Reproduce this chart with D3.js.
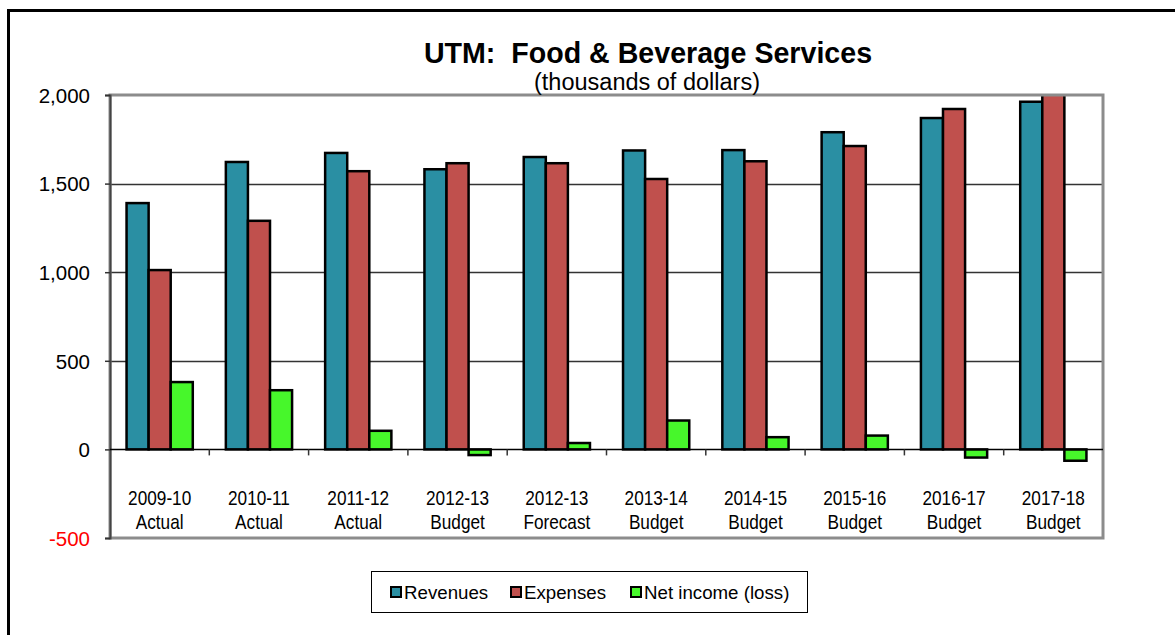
<!DOCTYPE html>
<meta charset="utf-8">
<head>
  <title>UTM: Food &amp; Beverage Services</title>
</head>

<style>
body {
  margin: 0;
  background: #fff;
  font-family: Arial, "Liberation Sans", Helvetica, sans-serif;
}

.frame {
  fill: none;
  stroke: #000;
  stroke-width: 3;
}

.grid line {
  stroke: #333;
  stroke-width: 1.3;
}

.plot-border {
  fill: none;
  stroke: #8c8c8c;
  stroke-width: 3;
}

.bars rect {
  stroke: #000;
  stroke-width: 2.5;
}

.ylab {
  font-family: Arial, "Liberation Sans", sans-serif;
  font-size: 20.5px;
}

.xlab {
  font-family: "Liberation Sans Narrow", "Arial Narrow", Arial, sans-serif;
  font-size: 21px;
  fill: #000;
}

.legend text {
  font-size: 18.7px;
}
</style>

<body>
  <svg width="1175" height="635"></svg>

  <script src="https://cdnjs.cloudflare.com/ajax/libs/d3/7.8.5/d3.min.js"></script>

  <script>
var categories = [
  ['2009-10', 'Actual'],
  ['2010-11', 'Actual'],
  ['2011-12', 'Actual'],
  ['2012-13', 'Budget'],
  ['2012-13', 'Forecast'],
  ['2013-14', 'Budget'],
  ['2014-15', 'Budget'],
  ['2015-16', 'Budget'],
  ['2016-17', 'Budget'],
  ['2017-18', 'Budget']
];
var seriesNames = ['Revenues', 'Expenses', 'Net income (loss)'];
var seriesColors = ['#2a8fa3', '#c0504d', '#47f72b'];

var revenues = [1390, 1622, 1673, 1581, 1650, 1687, 1689, 1790, 1870, 1962];
var expenses = [1012, 1290, 1570, 1615, 1615, 1526, 1626, 1712, 1921, 2030];
var netIncome = [380, 334, 105, -32, 36, 163, 69, 78, -46, -64];

var yTicks = [-500, 0, 500, 1000, 1500, 2000];

var svg = d3.select('svg');
var plot = {left: 110, right: 1103, top: 95, bottom: 538};

// outer chart frame (cropped on the right and bottom)
svg.append('path')
  .attr('class', 'frame')
  .attr('d', 'M8.5,636 V10.5 H1176');

var x = d3.scaleBand()
  .domain(d3.range(categories.length))
  .range([plot.left, plot.right])
  .paddingInner(0.333)
  .paddingOuter(0.1667);

var xs = d3.scaleBand()
  .domain(d3.range(seriesNames.length))
  .range([0, x.bandwidth()]);

var y = d3.scaleLinear()
  .domain([-500, 2000])
  .range([plot.bottom, plot.top]);

// gridlines
svg.append('g')
  .attr('class', 'grid')
  .selectAll('line')
  .data([500, 1000, 1500])
  .enter()
  .append('line')
  .attr('x1', plot.left)
  .attr('x2', plot.right)
  .attr('y1', function(d) { return Math.round(y(d)) + 0.5; })
  .attr('y2', function(d) { return Math.round(y(d)) + 0.5; });

// bars, clipped to the plot area
svg.append('clipPath')
  .attr('id', 'clip')
  .append('rect')
  .attr('x', plot.left)
  .attr('y', plot.top)
  .attr('width', plot.right - plot.left)
  .attr('height', plot.bottom - plot.top);

var series = [revenues, expenses, netIncome];
var groups = svg.append('g')
  .attr('class', 'bars')
  .attr('clip-path', 'url(#clip)')
  .selectAll('g')
  .data(series)
  .enter()
  .append('g')
  .attr('fill', function(d, i) { return seriesColors[i]; });

groups.each(function(vals, si) {
  d3.select(this).selectAll('rect')
    .data(vals)
    .enter()
    .append('rect')
    .attr('x', function(d, i) { return x(i) + xs(si); })
    .attr('width', xs.bandwidth())
    .attr('y', function(d) { return y(Math.max(0, d)); })
    .attr('height', function(d) { return Math.abs(y(d) - y(0)); });
});

// plot area border
svg.append('rect')
  .attr('class', 'plot-border')
  .attr('x', plot.left)
  .attr('y', plot.top)
  .attr('width', plot.right - plot.left)
  .attr('height', plot.bottom - plot.top);

// y axis (plain hyphen for negatives, as in the original)
var fmt = d3.format(',');
var yAxis = d3.axisLeft(y)
  .tickValues(yTicks)
  .tickSize(5)
  .tickPadding(15)
  .tickFormat(function(d) { return fmt(d).replace('\u2212', '-'); });

var ya = svg.append('g')
  .attr('transform', 'translate(' + plot.left + ',0)')
  .call(yAxis);
ya.attr('font-family', null).attr('font-size', null);
ya.select('.domain').attr('stroke', '#444').attr('stroke-width', 2);
ya.selectAll('.tick line').attr('stroke', '#333').attr('stroke-width', 1.5);
ya.selectAll('.tick text')
  .attr('class', 'ylab')
  .attr('dy', '0.36em')
  .style('fill', function(d) { return d < 0 ? '#ff0000' : '#000'; });

// zero line with category boundary ticks
var boundaries = d3.range(1, categories.length).map(function(i) {
  return plot.left + i * (plot.right - plot.left) / categories.length;
});
svg.append('line')
  .attr('x1', plot.left)
  .attr('x2', plot.right)
  .attr('y1', y(0))
  .attr('y2', y(0))
  .attr('stroke', '#000')
  .attr('stroke-width', 1.5);
svg.append('g')
  .selectAll('line')
  .data(boundaries)
  .enter()
  .append('line')
  .attr('x1', function(d) { return d; })
  .attr('x2', function(d) { return d; })
  .attr('y1', y(0))
  .attr('y2', y(0) + 6)
  .attr('stroke', '#333')
  .attr('stroke-width', 1.5);

// category labels (condensed like Arial Narrow)
var xl = svg.append('g')
  .selectAll('text')
  .data(categories)
  .enter()
  .append('text')
  .attr('class', 'xlab')
  .attr('text-anchor', 'middle')
  .attr('transform', function(d, i) {
    return 'translate(' + (x(i) + x.bandwidth() / 2) + ',505) scale(0.82,1)';
  });
xl.append('tspan').attr('x', 0).text(function(d) { return d[0]; });
xl.append('tspan')
  .attr('x', 0)
  .attr('dy', 24)
  .text(function(d) { return d[1]; });

// title
svg.append('text')
  .attr('x', 648)
  .attr('y', 63)
  .attr('text-anchor', 'middle')
  .attr('font-size', 28.6)
  .attr('font-weight', 'bold')
  .style('white-space', 'pre')
  .text('UTM:  Food & Beverage Services');

svg.append('text')
  .attr('x', 647)
  .attr('y', 90)
  .attr('text-anchor', 'middle')
  .attr('font-size', 23.5)
  .text('(thousands of dollars)');

// legend
var legend = svg.append('g').attr('class', 'legend');
legend.append('rect')
  .attr('x', 371.5)
  .attr('y', 571.5)
  .attr('width', 436)
  .attr('height', 41)
  .attr('fill', '#fff')
  .attr('stroke', '#000')
  .attr('stroke-width', 1);

var legendX = [391, 511, 631];
var li = legend.selectAll('g.item')
  .data(seriesNames)
  .enter()
  .append('g')
  .attr('class', 'item')
  .attr('transform', function(d, i) { return 'translate(' + legendX[i] + ',592)'; });
li.append('rect')
  .attr('x', 0)
  .attr('y', -5)
  .attr('width', 10)
  .attr('height', 10)
  .attr('fill', function(d, i) { return seriesColors[i]; })
  .attr('stroke', '#000')
  .attr('stroke-width', 2);
li.append('text')
  .attr('x', 13)
  .attr('y', 7)
  .text(function(d) { return d; });
  </script>
</body>
</html>
